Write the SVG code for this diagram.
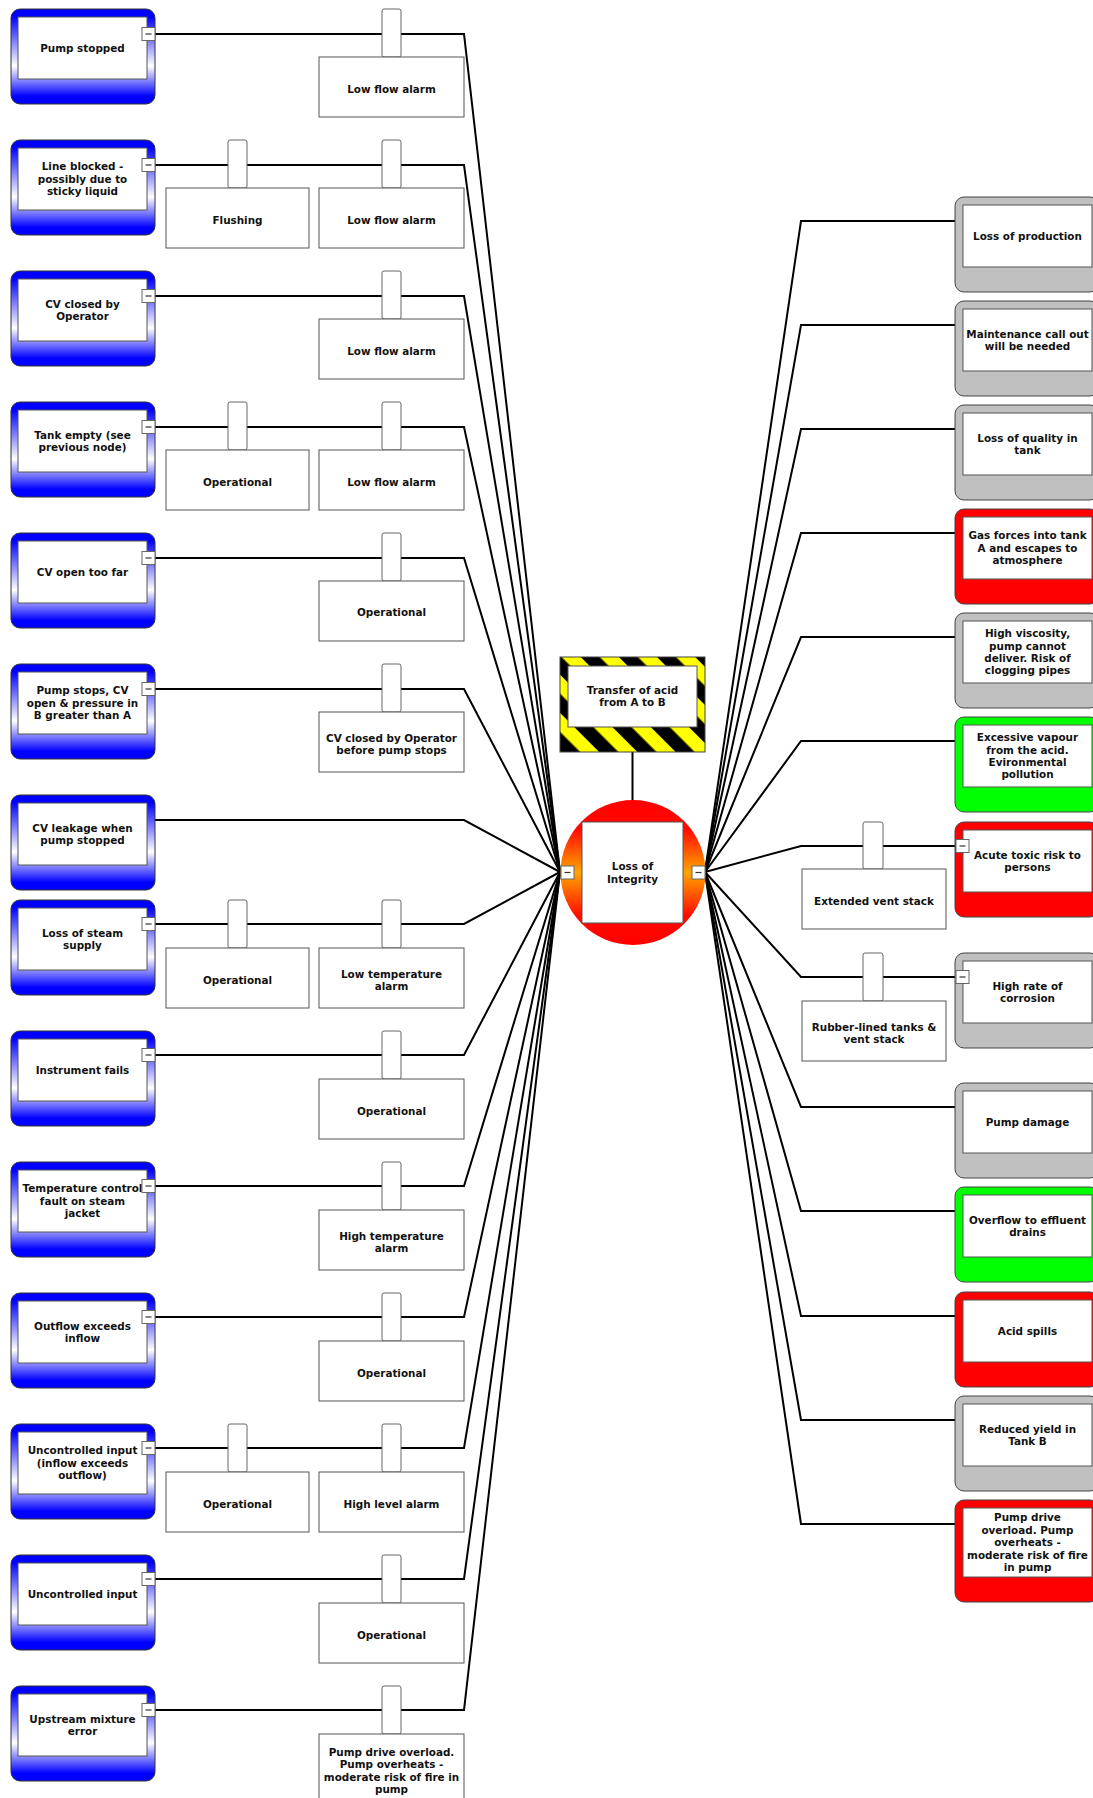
<svg xmlns="http://www.w3.org/2000/svg" width="1093" height="1798" viewBox="0 0 1093 1798">
<defs>
<linearGradient id="blueGrad" x1="0" y1="0" x2="0" y2="1">
<stop offset="0" stop-color="#0000ff"/>
<stop offset="0.08" stop-color="#0000ff"/>
<stop offset="0.6" stop-color="#ffffff"/>
<stop offset="0.92" stop-color="#0000ff"/>
<stop offset="1" stop-color="#0000ff"/>
</linearGradient>
<linearGradient id="topGrad" x1="0" y1="0" x2="0" y2="1">
<stop offset="0" stop-color="#ff0000"/>
<stop offset="0.2" stop-color="#ff0a00"/>
<stop offset="0.5" stop-color="#ffa500"/>
<stop offset="0.8" stop-color="#ff0a00"/>
<stop offset="1" stop-color="#ff0000"/>
</linearGradient>
<pattern id="haz" patternUnits="userSpaceOnUse" width="27" height="27" patternTransform="rotate(-45)">
<rect width="27" height="27" fill="#ffff00"/>
<rect width="13.5" height="27" fill="#000000"/>
</pattern>
</defs>
<style>
text{font-family:"DejaVu Sans",Verdana,"Liberation Sans",sans-serif;font-weight:bold;font-size:10.4px;fill:#111;text-anchor:middle}
.cause{fill:url(#blueGrad);stroke:#333;stroke-width:1}
.grey{fill:#c0c0c0;stroke:#444;stroke-width:1}
.red{fill:#ff0000;stroke:#444;stroke-width:1}
.green{fill:#00ff00;stroke:#444;stroke-width:1}
.inner{fill:#fff;stroke:#555;stroke-width:1}
.tab{fill:#fff;stroke:#666;stroke-width:1}
.bar{fill:#fff;stroke:#555;stroke-width:1}
.mbox{fill:#fff;stroke:#666;stroke-width:1}
.mdash{stroke:#333;stroke-width:1.2;fill:none}
.conn{fill:none;stroke:#000;stroke-width:2}
</style>

<g id="connectors">
<path class="conn" d="M632.5,752 V800"/>
<path class="conn" d="M155,34 H464 L560,872"/>
<path class="conn" d="M155,165 H464 L560,872"/>
<path class="conn" d="M155,296 H464 L560,872"/>
<path class="conn" d="M155,427 H464 L560,872"/>
<path class="conn" d="M155,558 H464 L560,872"/>
<path class="conn" d="M155,689 H464 L560,872"/>
<path class="conn" d="M155,820 H464 L560,872"/>
<path class="conn" d="M155,924 H464 L560,872"/>
<path class="conn" d="M155,1055 H464 L560,872"/>
<path class="conn" d="M155,1186 H464 L560,872"/>
<path class="conn" d="M155,1317 H464 L560,872"/>
<path class="conn" d="M155,1448 H464 L560,872"/>
<path class="conn" d="M155,1579 H464 L560,872"/>
<path class="conn" d="M155,1710 H464 L560,872"/>
<path class="conn" d="M705,872 L801,221 H955"/>
<path class="conn" d="M705,872 L801,325 H955"/>
<path class="conn" d="M705,872 L801,429 H955"/>
<path class="conn" d="M705,872 L801,533 H955"/>
<path class="conn" d="M705,872 L801,637 H955"/>
<path class="conn" d="M705,872 L801,741 H955"/>
<path class="conn" d="M705,872 L801,846 H955"/>
<path class="conn" d="M705,872 L801,977 H955"/>
<path class="conn" d="M705,872 L801,1107 H955"/>
<path class="conn" d="M705,872 L801,1211 H955"/>
<path class="conn" d="M705,872 L801,1316 H955"/>
<path class="conn" d="M705,872 L801,1420 H955"/>
<path class="conn" d="M705,872 L801,1524 H955"/>
</g>

<g id="hazard">
<rect x="560" y="657" width="145" height="95" fill="url(#haz)" stroke="#444" stroke-width="1"/>
<rect class="inner" x="568" y="666" width="129" height="61"/>
<text x="632.5" y="693.7">Transfer of acid</text>
<text x="632.5" y="706">from A to B</text>
</g>

<g id="top-event">
<circle cx="633" cy="872.5" r="72.5" fill="url(#topGrad)"/>
<rect class="inner" x="582" y="822" width="101" height="101"/>
<text x="632.5" y="870.4">Loss of</text>
<text x="632.5" y="882.7">Integrity</text>
<rect class="mbox" x="561" y="866" width="13" height="13"/>
<path class="mdash" d="M564.5,872.5 H570.5"/>
<rect class="mbox" x="692" y="866" width="13" height="13"/>
<path class="mdash" d="M695.5,872.5 H701.5"/>
</g>

<!-- Threats (left) -->
<g id="threat-0">
<rect class="cause" x="11" y="9" width="144" height="95" rx="9"/>
<rect class="inner" x="18" y="17" width="129" height="62"/>
<text x="82.5" y="51.7">Pump stopped</text>
<rect class="mbox" x="142" y="27.5" width="13" height="13"/><path class="mdash" d="M145.5,34 H151.5"/>
</g>
<g id="barrier-0a">
<rect class="tab" x="382" y="9" width="19" height="48" rx="2"/>
<rect class="bar" x="319" y="57" width="145" height="60"/>
<text x="391.5" y="93.2">Low flow alarm</text>
</g>

<g id="threat-1">
<rect class="cause" x="11" y="140" width="144" height="95" rx="9"/>
<rect class="inner" x="18" y="148" width="129" height="62"/>
<text x="82.5" y="170.3">Line blocked -</text>
<text x="82.5" y="182.7">possibly due to</text>
<text x="82.5" y="195.1">sticky liquid</text>
<rect class="mbox" x="142" y="158.5" width="13" height="13"/><path class="mdash" d="M145.5,165 H151.5"/>
</g>
<g id="barrier-1b">
<rect class="tab" x="228" y="140" width="19" height="48" rx="2"/>
<rect class="bar" x="166" y="188" width="143" height="60"/>
<text x="237.5" y="224.2">Flushing</text>
</g>
<g id="barrier-1a">
<rect class="tab" x="382" y="140" width="19" height="48" rx="2"/>
<rect class="bar" x="319" y="188" width="145" height="60"/>
<text x="391.5" y="224.2">Low flow alarm</text>
</g>

<g id="threat-2">
<rect class="cause" x="11" y="271" width="144" height="95" rx="9"/>
<rect class="inner" x="18" y="279" width="129" height="62"/>
<text x="82.5" y="307.5">CV closed by</text>
<text x="82.5" y="319.9">Operator</text>
<rect class="mbox" x="142" y="289.5" width="13" height="13"/><path class="mdash" d="M145.5,296 H151.5"/>
</g>
<g id="barrier-2a">
<rect class="tab" x="382" y="271" width="19" height="48" rx="2"/>
<rect class="bar" x="319" y="319" width="145" height="60"/>
<text x="391.5" y="355.2">Low flow alarm</text>
</g>

<g id="threat-3">
<rect class="cause" x="11" y="402" width="144" height="95" rx="9"/>
<rect class="inner" x="18" y="410" width="129" height="62"/>
<text x="82.5" y="438.5">Tank empty (see</text>
<text x="82.5" y="450.9">previous node)</text>
<rect class="mbox" x="142" y="420.5" width="13" height="13"/><path class="mdash" d="M145.5,427 H151.5"/>
</g>
<g id="barrier-3b">
<rect class="tab" x="228" y="402" width="19" height="48" rx="2"/>
<rect class="bar" x="166" y="450" width="143" height="60"/>
<text x="237.5" y="486.2">Operational</text>
</g>
<g id="barrier-3a">
<rect class="tab" x="382" y="402" width="19" height="48" rx="2"/>
<rect class="bar" x="319" y="450" width="145" height="60"/>
<text x="391.5" y="486.2">Low flow alarm</text>
</g>

<g id="threat-4">
<rect class="cause" x="11" y="533" width="144" height="95" rx="9"/>
<rect class="inner" x="18" y="541" width="129" height="62"/>
<text x="82.5" y="575.7">CV open too far</text>
<rect class="mbox" x="142" y="551.5" width="13" height="13"/><path class="mdash" d="M145.5,558 H151.5"/>
</g>
<g id="barrier-4a">
<rect class="tab" x="382" y="533" width="19" height="48" rx="2"/>
<rect class="bar" x="319" y="581" width="145" height="60"/>
<text x="391.5" y="616.2">Operational</text>
</g>

<g id="threat-5">
<rect class="cause" x="11" y="664" width="144" height="95" rx="9"/>
<rect class="inner" x="18" y="672" width="129" height="62"/>
<text x="82.5" y="694.3">Pump stops, CV</text>
<text x="82.5" y="706.7">open &amp; pressure in</text>
<text x="82.5" y="719.1">B greater than A</text>
<rect class="mbox" x="142" y="682.5" width="13" height="13"/><path class="mdash" d="M145.5,689 H151.5"/>
</g>
<g id="barrier-5a">
<rect class="tab" x="382" y="664" width="19" height="48" rx="2"/>
<rect class="bar" x="319" y="712" width="145" height="60"/>
<text x="391.5" y="742">CV closed by Operator</text>
<text x="391.5" y="754.4">before pump stops</text>
</g>

<g id="threat-6">
<rect class="cause" x="11" y="795" width="144" height="95" rx="9"/>
<rect class="inner" x="18" y="803" width="129" height="62"/>
<text x="82.5" y="831.5">CV leakage when</text>
<text x="82.5" y="843.9">pump stopped</text>
</g>

<g id="threat-7">
<rect class="cause" x="11" y="900" width="144" height="95" rx="9"/>
<rect class="inner" x="18" y="908" width="129" height="62"/>
<text x="82.5" y="936.5">Loss of steam</text>
<text x="82.5" y="948.9">supply</text>
<rect class="mbox" x="142" y="917.5" width="13" height="13"/><path class="mdash" d="M145.5,924 H151.5"/>
</g>
<g id="barrier-7b">
<rect class="tab" x="228" y="900" width="19" height="48" rx="2"/>
<rect class="bar" x="166" y="948" width="143" height="60"/>
<text x="237.5" y="984.2">Operational</text>
</g>
<g id="barrier-7a">
<rect class="tab" x="382" y="900" width="19" height="48" rx="2"/>
<rect class="bar" x="319" y="948" width="145" height="60"/>
<text x="391.5" y="978">Low temperature</text>
<text x="391.5" y="990.4">alarm</text>
</g>

<g id="threat-8">
<rect class="cause" x="11" y="1031" width="144" height="95" rx="9"/>
<rect class="inner" x="18" y="1039" width="129" height="62"/>
<text x="82.5" y="1073.7">Instrument fails</text>
<rect class="mbox" x="142" y="1048.5" width="13" height="13"/><path class="mdash" d="M145.5,1055 H151.5"/>
</g>
<g id="barrier-8a">
<rect class="tab" x="382" y="1031" width="19" height="48" rx="2"/>
<rect class="bar" x="319" y="1079" width="145" height="60"/>
<text x="391.5" y="1115.2">Operational</text>
</g>

<g id="threat-9">
<rect class="cause" x="11" y="1162" width="144" height="95" rx="9"/>
<rect class="inner" x="18" y="1170" width="129" height="62"/>
<text x="82.5" y="1192.3">Temperature control</text>
<text x="82.5" y="1204.7">fault on steam</text>
<text x="82.5" y="1217.1">jacket</text>
<rect class="mbox" x="142" y="1179.5" width="13" height="13"/><path class="mdash" d="M145.5,1186 H151.5"/>
</g>
<g id="barrier-9a">
<rect class="tab" x="382" y="1162" width="19" height="48" rx="2"/>
<rect class="bar" x="319" y="1210" width="145" height="60"/>
<text x="391.5" y="1240">High temperature</text>
<text x="391.5" y="1252.4">alarm</text>
</g>

<g id="threat-10">
<rect class="cause" x="11" y="1293" width="144" height="95" rx="9"/>
<rect class="inner" x="18" y="1301" width="129" height="62"/>
<text x="82.5" y="1329.5">Outflow exceeds</text>
<text x="82.5" y="1341.9">inflow</text>
<rect class="mbox" x="142" y="1310.5" width="13" height="13"/><path class="mdash" d="M145.5,1317 H151.5"/>
</g>
<g id="barrier-10a">
<rect class="tab" x="382" y="1293" width="19" height="48" rx="2"/>
<rect class="bar" x="319" y="1341" width="145" height="60"/>
<text x="391.5" y="1377.2">Operational</text>
</g>

<g id="threat-11">
<rect class="cause" x="11" y="1424" width="144" height="95" rx="9"/>
<rect class="inner" x="18" y="1432" width="129" height="62"/>
<text x="82.5" y="1454.3">Uncontrolled input</text>
<text x="82.5" y="1466.7">(inflow exceeds</text>
<text x="82.5" y="1479.1">outflow)</text>
<rect class="mbox" x="142" y="1441.5" width="13" height="13"/><path class="mdash" d="M145.5,1448 H151.5"/>
</g>
<g id="barrier-11b">
<rect class="tab" x="228" y="1424" width="19" height="48" rx="2"/>
<rect class="bar" x="166" y="1472" width="143" height="60"/>
<text x="237.5" y="1508.2">Operational</text>
</g>
<g id="barrier-11a">
<rect class="tab" x="382" y="1424" width="19" height="48" rx="2"/>
<rect class="bar" x="319" y="1472" width="145" height="60"/>
<text x="391.5" y="1508.2">High level alarm</text>
</g>

<g id="threat-12">
<rect class="cause" x="11" y="1555" width="144" height="95" rx="9"/>
<rect class="inner" x="18" y="1563" width="129" height="62"/>
<text x="82.5" y="1597.7">Uncontrolled input</text>
<rect class="mbox" x="142" y="1572.5" width="13" height="13"/><path class="mdash" d="M145.5,1579 H151.5"/>
</g>
<g id="barrier-12a">
<rect class="tab" x="382" y="1555" width="19" height="48" rx="2"/>
<rect class="bar" x="319" y="1603" width="145" height="60"/>
<text x="391.5" y="1639.2">Operational</text>
</g>

<g id="threat-13">
<rect class="cause" x="11" y="1686" width="144" height="95" rx="9"/>
<rect class="inner" x="18" y="1694" width="129" height="62"/>
<text x="82.5" y="1722.5">Upstream mixture</text>
<text x="82.5" y="1734.9">error</text>
<rect class="mbox" x="142" y="1703.5" width="13" height="13"/><path class="mdash" d="M145.5,1710 H151.5"/>
</g>
<g id="barrier-13a">
<rect class="tab" x="382" y="1686" width="19" height="48" rx="2"/>
<rect class="bar" x="319" y="1734" width="145" height="65"/>
<text x="391.5" y="1755.9">Pump drive overload.</text>
<text x="391.5" y="1768.3">Pump overheats -</text>
<text x="391.5" y="1780.7">moderate risk of fire in</text>
<text x="391.5" y="1793.1">pump</text>
</g>

<!-- Consequences (right) -->
<g id="conseq-0">
<rect class="grey" x="955" y="197" width="144" height="95" rx="9"/>
<rect class="inner" x="963" y="205" width="129" height="62"/>
<text x="1027.5" y="239.7">Loss of production</text>
</g>
<g id="conseq-1">
<rect class="grey" x="955" y="301" width="144" height="95" rx="9"/>
<rect class="inner" x="963" y="309" width="129" height="62"/>
<text x="1027.5" y="337.5">Maintenance call out</text>
<text x="1027.5" y="349.9">will be needed</text>
</g>
<g id="conseq-2">
<rect class="grey" x="955" y="405" width="144" height="95" rx="9"/>
<rect class="inner" x="963" y="413" width="129" height="62"/>
<text x="1027.5" y="441.5">Loss of quality in</text>
<text x="1027.5" y="453.9">tank</text>
</g>
<g id="conseq-3">
<rect class="red" x="955" y="509" width="144" height="95" rx="9"/>
<rect class="inner" x="963" y="517" width="129" height="62"/>
<text x="1027.5" y="539.3">Gas forces into tank</text>
<text x="1027.5" y="551.7">A and escapes to</text>
<text x="1027.5" y="564.1">atmosphere</text>
</g>
<g id="conseq-4">
<rect class="grey" x="955" y="613" width="144" height="95" rx="9"/>
<rect class="inner" x="963" y="621" width="129" height="62"/>
<text x="1027.5" y="637.1">High viscosity,</text>
<text x="1027.5" y="649.5">pump cannot</text>
<text x="1027.5" y="661.9">deliver. Risk of</text>
<text x="1027.5" y="674.3">clogging pipes</text>
</g>
<g id="conseq-5">
<rect class="green" x="955" y="717" width="144" height="95" rx="9"/>
<rect class="inner" x="963" y="725" width="129" height="62"/>
<text x="1027.5" y="741.1">Excessive vapour</text>
<text x="1027.5" y="753.5">from the acid.</text>
<text x="1027.5" y="765.9">Evironmental</text>
<text x="1027.5" y="778.3">pollution</text>
</g>
<g id="conseq-6">
<rect class="red" x="955" y="822" width="144" height="95" rx="9"/>
<rect class="inner" x="963" y="830" width="129" height="62"/>
<text x="1027.5" y="858.5">Acute toxic risk to</text>
<text x="1027.5" y="870.9">persons</text>
<rect class="mbox" x="956" y="839.5" width="13" height="13"/><path class="mdash" d="M959.5,846 H965.5"/>
</g>
<g id="barrier-r6">
<rect class="tab" x="863" y="822" width="20" height="47" rx="2"/>
<rect class="bar" x="802" y="869" width="144" height="60"/>
<text x="874" y="905.2">Extended vent stack</text>
</g>
<g id="conseq-7">
<rect class="grey" x="955" y="953" width="144" height="95" rx="9"/>
<rect class="inner" x="963" y="961" width="129" height="62"/>
<text x="1027.5" y="989.5">High rate of</text>
<text x="1027.5" y="1001.9">corrosion</text>
<rect class="mbox" x="956" y="970.5" width="13" height="13"/><path class="mdash" d="M959.5,977 H965.5"/>
</g>
<g id="barrier-r7">
<rect class="tab" x="863" y="953" width="20" height="48" rx="2"/>
<rect class="bar" x="802" y="1001" width="144" height="60"/>
<text x="874" y="1031">Rubber-lined tanks &amp;</text>
<text x="874" y="1043.4">vent stack</text>
</g>
<g id="conseq-8">
<rect class="grey" x="955" y="1083" width="144" height="95" rx="9"/>
<rect class="inner" x="963" y="1091" width="129" height="62"/>
<text x="1027.5" y="1125.7">Pump damage</text>
</g>
<g id="conseq-9">
<rect class="green" x="955" y="1187" width="144" height="95" rx="9"/>
<rect class="inner" x="963" y="1195" width="129" height="62"/>
<text x="1027.5" y="1223.5">Overflow to effluent</text>
<text x="1027.5" y="1235.9">drains</text>
</g>
<g id="conseq-10">
<rect class="red" x="955" y="1292" width="144" height="95" rx="9"/>
<rect class="inner" x="963" y="1300" width="129" height="62"/>
<text x="1027.5" y="1334.7">Acid spills</text>
</g>
<g id="conseq-11">
<rect class="grey" x="955" y="1396" width="144" height="95" rx="9"/>
<rect class="inner" x="963" y="1404" width="129" height="62"/>
<text x="1027.5" y="1432.5">Reduced yield in</text>
<text x="1027.5" y="1444.9">Tank B</text>
</g>
<g id="conseq-12">
<rect class="red" x="955" y="1500" width="144" height="102" rx="9"/>
<rect class="inner" x="963" y="1508" width="129" height="69"/>
<text x="1027.5" y="1521.4">Pump drive</text>
<text x="1027.5" y="1533.8">overload. Pump</text>
<text x="1027.5" y="1546.2">overheats -</text>
<text x="1027.5" y="1558.6">moderate risk of fire</text>
<text x="1027.5" y="1571">in pump</text>
</g>
</svg>
